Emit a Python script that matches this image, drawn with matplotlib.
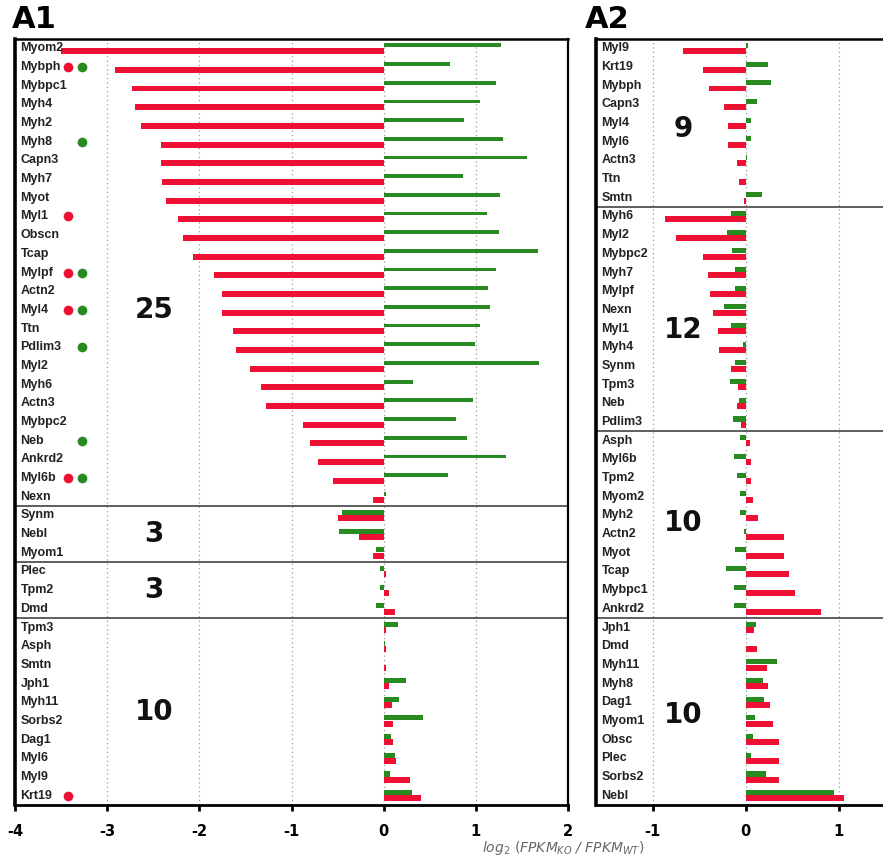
import matplotlib
matplotlib.use("Agg")
import matplotlib.pyplot as plt
import numpy as np

# ---- panel A1 ----
a1_genes = ["Myom2", "Mybph", "Mybpc1", "Myh4", "Myh2", "Myh8", "Capn3", "Myh7", "Myot",
            "Myl1", "Obscn", "Tcap", "Mylpf", "Actn2", "Myl4", "Ttn", "Pdlim3", "Myl2",
            "Myh6", "Actn3", "Mybpc2", "Neb", "Ankrd2", "Myl6b", "Nexn",
            "Synm", "Nebl", "Myom1",
            "Plec", "Tpm2", "Dmd",
            "Tpm3", "Asph", "Smtn", "Jph1", "Myh11", "Sorbs2", "Dag1", "Myl6", "Myl9", "Krt19"]
a1_red = [-3.50, -2.92, -2.73, -2.70, -2.63, -2.42, -2.42, -2.40, -2.36,
          -2.23, -2.18, -2.07, -1.84, -1.75, -1.75, -1.63, -1.60, -1.45,
          -1.33, -1.28, -0.87, -0.80, -0.71, -0.55, -0.12,
          -0.50, -0.27, -0.12,
          0.03, 0.06, 0.12,
          0.02, 0.02, 0.02, 0.06, 0.09, 0.10, 0.10, 0.13, 0.29, 0.41]
a1_green = [1.27, 0.72, 1.22, 1.04, 0.87, 1.30, 1.56, 0.86, 1.26,
            1.12, 1.25, 1.67, 1.22, 1.13, 1.15, 1.04, 0.99, 1.68,
            0.32, 0.97, 0.79, 0.90, 1.33, 0.70, 0.02,
            -0.45, -0.49, -0.08,
            -0.04, -0.04, -0.08,
            0.16, 0.01, 0.005, 0.24, 0.17, 0.43, 0.08, 0.12, 0.07, 0.31]
a1_groups = [25, 3, 3, 10]
# marker dots beside gene names: (gene, red dot, green dot)
a1_dots = [("Mybph", True, True), ("Myh8", False, True), ("Myl1", True, False),
           ("Mylpf", True, True), ("Myl4", True, True), ("Pdlim3", False, True),
           ("Neb", False, True), ("Myl6b", True, True), ("Krt19", True, False)]

# ---- panel A2 ----
a2_genes = ["Myl9", "Krt19", "Mybph", "Capn3", "Myl4", "Myl6", "Actn3", "Ttn", "Smtn",
            "Myh6", "Myl2", "Mybpc2", "Myh7", "Mylpf", "Nexn", "Myl1", "Myh4", "Synm",
            "Tpm3", "Neb", "Pdlim3",
            "Asph", "Myl6b", "Tpm2", "Myom2", "Myh2", "Actn2", "Myot", "Tcap", "Mybpc1", "Ankrd2",
            "Jph1", "Dmd", "Myh11", "Myh8", "Dag1", "Myom1", "Obsc", "Plec", "Sorbs2", "Nebl"]
a2_red = [-0.67, -0.46, -0.40, -0.23, -0.19, -0.19, -0.10, -0.07, -0.02,
          -0.87, -0.75, -0.46, -0.41, -0.38, -0.35, -0.30, -0.29, -0.16,
          -0.08, -0.09, -0.05,
          0.04, 0.06, 0.06, 0.08, 0.13, 0.41, 0.41, 0.46, 0.53, 0.81,
          0.09, 0.12, 0.23, 0.24, 0.26, 0.29, 0.36, 0.36, 0.36, 1.05]
a2_green = [0.02, 0.24, 0.27, 0.12, 0.06, 0.05, 0.01, 0.005, 0.17,
            -0.16, -0.20, -0.15, -0.12, -0.12, -0.24, -0.16, -0.03, -0.12,
            -0.17, -0.07, -0.14,
            -0.06, -0.13, -0.10, -0.06, -0.06, -0.02, -0.12, -0.21, -0.13, -0.13,
            0.11, 0.005, 0.33, 0.18, 0.20, 0.10, 0.08, 0.05, 0.22, 0.95]
a2_groups = [9, 12, 10, 10]

RED = "#ee1133"
GREEN = "#2a8a22"
LABEL_FONT = ["Liberation Sans Narrow", "Liberation Sans", "DejaVu Sans"]

fig = plt.figure(figsize=(8.83, 8.58), dpi=100)
ax1 = fig.add_axes([15 / 883, 1 - 805 / 858, 553 / 883, 766 / 858])
ax2 = fig.add_axes([596 / 883, 1 - 805 / 858, 336 / 883, 766 / 858])


def draw_panel(ax, genes, red, green, groups, xlim, xticks, thin_first=False):
    n = len(genes)
    y = np.arange(n)
    gh = np.full(n, 0.27)
    if thin_first:
        gh[:groups[0]] = 0.2
    ax.barh(y + 0.15, red, height=0.32, color=RED, zorder=3)
    ax.barh(y - 0.16, green, height=gh, color=GREEN, zorder=3)
    ax.set_xlim(*xlim)
    ax.set_ylim(n - 0.5, -0.5)
    ax.set_yticks([])
    ax.set_xticks(xticks)
    ax.set_xticklabels([str(t) for t in xticks], fontweight="bold", fontsize=10.5)
    ax.tick_params(axis="x", direction="out", length=4, width=2, pad=10)
    for t in range(int(np.ceil(xlim[0])), int(np.floor(xlim[1])) + 1):
        ax.axvline(t, color="#9a9a9a", lw=0.9, ls=(0, (1, 2.5)), zorder=1)
    for side, lw in (("left", 2.6), ("bottom", 2.0), ("top", 1.8), ("right", 1.6)):
        ax.spines[side].set_linewidth(lw)
    for b in np.cumsum(groups)[:-1]:
        ax.axhline(b - 0.5, color="#333333", lw=1.1, zorder=2)
    for i, g in enumerate(genes):
        ax.annotate(g, xy=(0, i), xycoords=("axes fraction", "data"), xytext=(4, 0),
                    textcoords="offset points", va="center", ha="left",
                    fontsize=9, fontweight="bold", family=LABEL_FONT, color="#222222")


draw_panel(ax1, a1_genes, a1_red, a1_green, a1_groups, (-4, 2), [-4, -3, -2, -1, 0, 1, 2],
           thin_first=True)
draw_panel(ax2, a2_genes, a2_red, a2_green, a2_groups, (-1.61, 2), [-1, 0, 1])

# dots beside gene names in A1
for gene, has_red, has_green in a1_dots:
    i = a1_genes.index(gene)
    if has_red:
        ax1.plot(-3.42, i, "o", color=RED, ms=7, mec="none", zorder=4)
    if has_green:
        ax1.plot(-3.27, i, "o", color=GREEN, ms=7, mec="none", zorder=4)

# group sizes
for ax, xs, ys, labels in ((ax1, -2.49, [14.0, 26.0, 29.0, 35.5], ["25", "3", "3", "10"]),
                           (ax2, -0.67, [4.3, 15.1, 25.4, 35.7], ["9", "12", "10", "10"])):
    for yy, lab in zip(ys, labels):
        ax.text(xs, yy, lab, fontsize=20, fontweight="bold", ha="center", va="center",
                color="#111111", zorder=5)

fig.text(12 / 883, 1 - 28 / 858, "A1", fontsize=22, fontweight="bold", va="baseline")
fig.text(585 / 883, 1 - 28 / 858, "A2", fontsize=22, fontweight="bold", va="baseline")
fig.text(563 / 883, 1 - 848 / 858, r"$log_2$ $(FPKM_{KO}$ / $FPKM_{WT})$", fontsize=10,
         ha="center", va="center", color="#666666", style="italic")

fig.savefig("out.png", dpi=100)
